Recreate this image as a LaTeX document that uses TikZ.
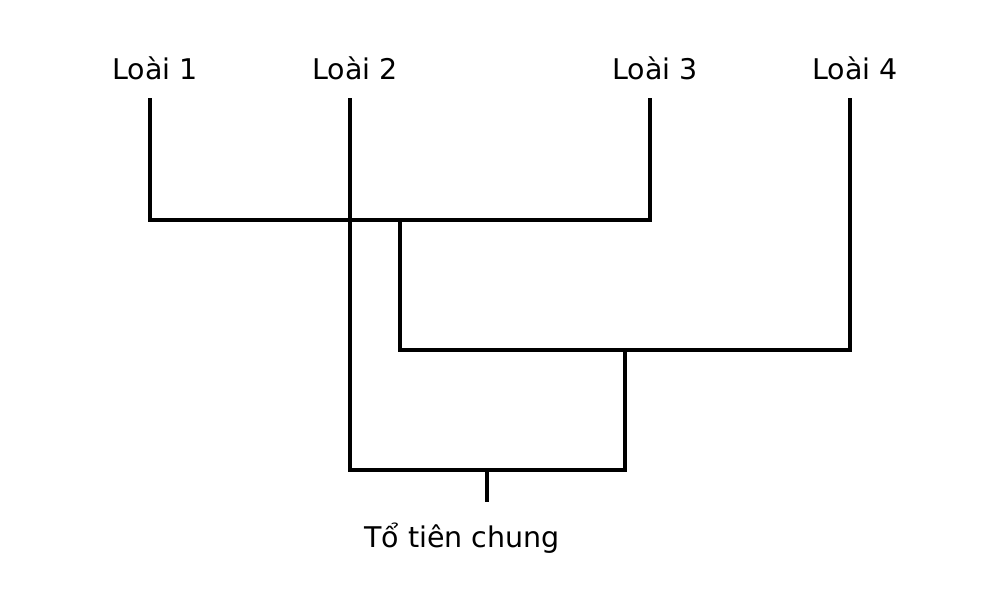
\documentclass[tikz,border=0pt]{standalone}
\usepackage{fontspec}
\setmainfont{DejaVu Sans}
\begin{document}
\begin{tikzpicture}[x=1pt,y=-1pt,
  br/.style={line width=4pt,line cap=rect,black},
  lbl/.style={font=\fontsize{28.5}{34}\selectfont,inner sep=0pt,anchor=center}]
\useasboundingbox (0,0) rectangle (1000,600);
\node[lbl] (l1) at (155,68) {Loài 1};
\node[lbl] (l2) at (355,68) {Loài 2};
\node[lbl] (l3) at (655,68) {Loài 3};
\node[lbl] (l4) at (855,68) {Loài 4};
\node[lbl] (root) at (462,538) {Tổ tiên chung};
\coordinate (t1) at (150,100); \coordinate (b1) at (150,220);
\coordinate (t2) at (350,100); \coordinate (b2) at (350,470);
\coordinate (t3) at (650,100); \coordinate (b3) at (650,220);
\coordinate (t4) at (850,100); \coordinate (b4) at (850,350);
\coordinate (n13) at (400,220); \coordinate (n13b) at (400,350);
\coordinate (n134) at (625,350); \coordinate (n134b) at (625,470);
\coordinate (r) at (487,470); \coordinate (rb) at (487,500);
\draw[br] (t1) -- (b1) -- (b3) -- (t3);
\draw[br] (t2) -- (b2) -- (n134b) -- (n134);
\draw[br] (n13) -- (n13b) -- (b4) -- (t4);
\draw[br] (r) -- (rb);
\end{tikzpicture}
\end{document}
